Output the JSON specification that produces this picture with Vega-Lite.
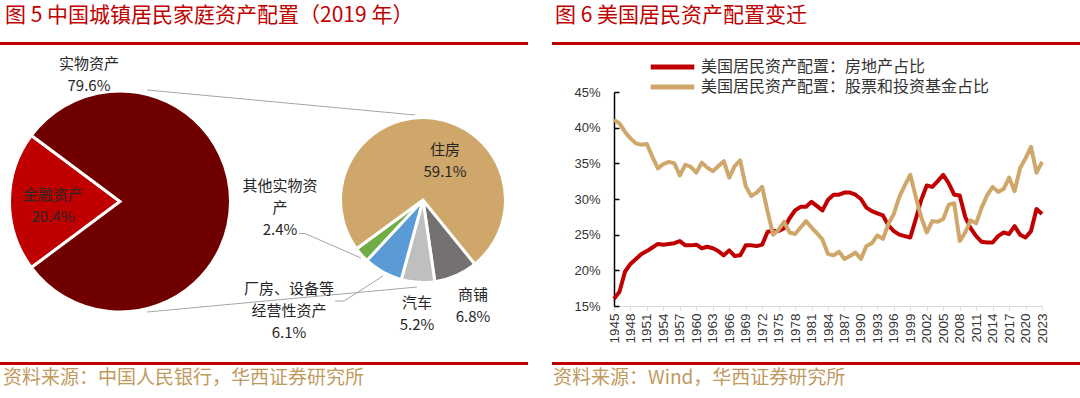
{
  "$schema": "https://vega.github.io/schema/vega-lite/v6.json",
  "padding": 0,
  "columns": 2,
  "bounds": "flush",
  "align": "each",
  "spacing": {"row": 47, "column": 24},
  "resolve": {"scale": {"color": "independent"}, "legend": {"color": "independent"}},
  "config": {
    "view": {"stroke": null},
    "font": "Noto Sans CJK SC",
    "text": {"font": "Noto Sans CJK SC"}
  },
  "concat": [
    {
      "width": 528, "height": 45,
      "data": {"values": [{"t": "图 5 中国城镇居民家庭资产配置（2019 年）"}]},
      "layer": [
        {"mark": {"type": "rect", "color": "#C00000"},
         "encoding": {
           "x": {"datum": 0, "type": "quantitative", "scale": {"domain": [0, 528], "nice": false, "zero": false}, "axis": null},
           "x2": {"datum": 528},
           "y": {"datum": 42, "type": "quantitative", "scale": {"domain": [0, 45], "nice": false, "zero": false, "reverse": true}, "axis": null},
           "y2": {"datum": 45}}},
        {"mark": {"type": "text", "align": "left", "baseline": "middle", "fontSize": 21, "color": "#C00000"},
         "encoding": {
           "text": {"field": "t"},
           "x": {"datum": 5, "type": "quantitative", "scale": {"domain": [0, 528], "nice": false, "zero": false}, "axis": null},
           "y": {"datum": 16, "type": "quantitative", "scale": {"domain": [0, 45], "nice": false, "zero": false, "reverse": true}, "axis": null}}}
      ]
    },
    {
      "width": 528, "height": 45,
      "data": {"values": [{"t": "图 6 美国居民资产配置变迁"}]},
      "layer": [
        {"mark": {"type": "rect", "color": "#C00000"},
         "encoding": {
           "x": {"datum": 0, "type": "quantitative", "scale": {"domain": [0, 528], "nice": false, "zero": false}, "axis": null},
           "x2": {"datum": 528},
           "y": {"datum": 42, "type": "quantitative", "scale": {"domain": [0, 45], "nice": false, "zero": false, "reverse": true}, "axis": null},
           "y2": {"datum": 45}}},
        {"mark": {"type": "text", "align": "left", "baseline": "middle", "fontSize": 21, "color": "#C00000"},
         "encoding": {
           "text": {"field": "t"},
           "x": {"datum": 3, "type": "quantitative", "scale": {"domain": [0, 528], "nice": false, "zero": false}, "axis": null},
           "y": {"datum": 16, "type": "quantitative", "scale": {"domain": [0, 45], "nice": false, "zero": false, "reverse": true}, "axis": null}}}
      ]
    },
    {
      "width": 528, "height": 223,
      "data": {"values": [
        {"group": "big", "k": 1, "name": "金融资产", "value": 20.4, "label": "金融资产\n20.4%"},
        {"group": "big", "k": 2, "name": "实物资产", "value": 79.6, "label": "实物资产\n79.6%"},
        {"group": "small", "k": 1, "name": "商铺", "value": 6.8, "label": "商铺\n6.8%"},
        {"group": "small", "k": 2, "name": "汽车", "value": 5.2, "label": "汽车\n5.2%"},
        {"group": "small", "k": 3, "name": "厂房、设备等经营性资产", "value": 6.1, "label": "厂房、设备等\n经营性资产\n6.1%"},
        {"group": "small", "k": 4, "name": "其他实物资产", "value": 2.4, "label": "其他实物资\n产\n2.4%"},
        {"group": "small", "k": 5, "name": "住房", "value": 59.1, "label": "住房\n59.1%"}
      ]},
      "resolve": {"scale": {"theta": "independent"}},
      "layer": [
        {"data": {"values": [{}]},
         "mark": {"type": "rule", "color": "#A6A6A6", "strokeWidth": 1},
         "encoding": {
           "x": {"datum": 147, "type": "quantitative", "scale": {"domain": [0, 528], "nice": false, "zero": false}, "axis": null},
           "y": {"datum": 90, "type": "quantitative", "scale": {"domain": [92, 315], "nice": false, "zero": false, "reverse": true}, "axis": null},
           "x2": {"datum": 415}, "y2": {"datum": 115}}},
        {"data": {"values": [{}]},
         "mark": {"type": "rule", "color": "#A6A6A6", "strokeWidth": 1},
         "encoding": {
           "x": {"datum": 147, "type": "quantitative", "scale": {"domain": [0, 528], "nice": false, "zero": false}, "axis": null},
           "y": {"datum": 312, "type": "quantitative", "scale": {"domain": [92, 315], "nice": false, "zero": false, "reverse": true}, "axis": null},
           "x2": {"datum": 417}, "y2": {"datum": 287}}},
        {"transform": [{"filter": "datum.group == 'big'"}],
         "mark": {"type": "arc", "radius": 110.5, "stroke": "#FFFFFF", "strokeWidth": 3},
         "encoding": {
           "theta": {"field": "value", "type": "quantitative", "stack": true, "scale": {"range": [4.0715, 10.3547]}},
           "order": {"field": "k", "type": "quantitative"},
           "color": {"field": "name", "type": "nominal", "legend": null,
             "scale": {"domain": ["实物资产", "金融资产", "住房", "商铺", "汽车", "厂房、设备等经营性资产", "其他实物资产"],
                       "range": ["#700000", "#C00000", "#CFA76B", "#767171", "#BFBFBF", "#5B9BD5", "#70AD47"]}},
           "x": {"datum": 120, "type": "quantitative", "scale": {"domain": [0, 528], "nice": false, "zero": false}, "axis": null},
           "y": {"datum": 201.5, "type": "quantitative", "scale": {"domain": [92, 315], "nice": false, "zero": false, "reverse": true}, "axis": null}}},
        {"transform": [{"filter": "datum.group == 'small'"}],
         "mark": {"type": "arc", "radius": 82.5, "stroke": "#FFFFFF", "strokeWidth": 3},
         "encoding": {
           "theta": {"field": "value", "type": "quantitative", "stack": true, "scale": {"range": [2.461, 8.7442]}},
           "order": {"field": "k", "type": "quantitative"},
           "color": {"field": "name", "type": "nominal", "legend": null},
           "x": {"datum": 423, "type": "quantitative", "scale": {"domain": [0, 528], "nice": false, "zero": false}, "axis": null},
           "y": {"datum": 200, "type": "quantitative", "scale": {"domain": [92, 315], "nice": false, "zero": false, "reverse": true}, "axis": null}}},
        {"data": {"values": [{}]},
         "mark": {"type": "rule", "color": "#A6A6A6", "strokeWidth": 1},
         "encoding": {
           "x": {"datum": 299, "type": "quantitative", "scale": {"domain": [0, 528], "nice": false, "zero": false}, "axis": null},
           "y": {"datum": 233.5, "type": "quantitative", "scale": {"domain": [92, 315], "nice": false, "zero": false, "reverse": true}, "axis": null},
           "x2": {"datum": 305}, "y2": {"datum": 233.5}}},
        {"data": {"values": [{}]},
         "mark": {"type": "rule", "color": "#A6A6A6", "strokeWidth": 1},
         "encoding": {
           "x": {"datum": 305, "type": "quantitative", "scale": {"domain": [0, 528], "nice": false, "zero": false}, "axis": null},
           "y": {"datum": 233.5, "type": "quantitative", "scale": {"domain": [92, 315], "nice": false, "zero": false, "reverse": true}, "axis": null},
           "x2": {"datum": 361}, "y2": {"datum": 258}}},
        {"data": {"values": [{}]},
         "mark": {"type": "rule", "color": "#A6A6A6", "strokeWidth": 1},
         "encoding": {
           "x": {"datum": 335, "type": "quantitative", "scale": {"domain": [0, 528], "nice": false, "zero": false}, "axis": null},
           "y": {"datum": 301, "type": "quantitative", "scale": {"domain": [92, 315], "nice": false, "zero": false, "reverse": true}, "axis": null},
           "x2": {"datum": 344}, "y2": {"datum": 301}}},
        {"data": {"values": [{}]},
         "mark": {"type": "rule", "color": "#A6A6A6", "strokeWidth": 1},
         "encoding": {
           "x": {"datum": 344, "type": "quantitative", "scale": {"domain": [0, 528], "nice": false, "zero": false}, "axis": null},
           "y": {"datum": 301, "type": "quantitative", "scale": {"domain": [92, 315], "nice": false, "zero": false, "reverse": true}, "axis": null},
           "x2": {"datum": 383}, "y2": {"datum": 276}}},
        {"transform": [{"filter": "datum.name == '实物资产'"}],
         "mark": {"type": "text", "fontSize": 15, "lineBreak": "\n", "lineHeight": 22, "align": "center", "baseline": "middle", "color": "#262626"},
         "encoding": {"text": {"field": "label"},
           "x": {"datum": 89, "type": "quantitative", "scale": {"domain": [0, 528], "nice": false, "zero": false}, "axis": null},
           "y": {"datum": 64, "type": "quantitative", "scale": {"domain": [92, 315], "nice": false, "zero": false, "reverse": true}, "axis": null}}},
        {"transform": [{"filter": "datum.name == '金融资产'"}],
         "mark": {"type": "text", "fontSize": 15, "lineBreak": "\n", "lineHeight": 22, "align": "center", "baseline": "middle", "color": "#262626"},
         "encoding": {"text": {"field": "label"},
           "x": {"datum": 53, "type": "quantitative", "scale": {"domain": [0, 528], "nice": false, "zero": false}, "axis": null},
           "y": {"datum": 195, "type": "quantitative", "scale": {"domain": [92, 315], "nice": false, "zero": false, "reverse": true}, "axis": null}}},
        {"transform": [{"filter": "datum.name == '其他实物资产'"}],
         "mark": {"type": "text", "fontSize": 15, "lineBreak": "\n", "lineHeight": 22, "align": "center", "baseline": "middle", "color": "#262626"},
         "encoding": {"text": {"field": "label"},
           "x": {"datum": 280, "type": "quantitative", "scale": {"domain": [0, 528], "nice": false, "zero": false}, "axis": null},
           "y": {"datum": 186, "type": "quantitative", "scale": {"domain": [92, 315], "nice": false, "zero": false, "reverse": true}, "axis": null}}},
        {"transform": [{"filter": "datum.name == '厂房、设备等经营性资产'"}],
         "mark": {"type": "text", "fontSize": 15, "lineBreak": "\n", "lineHeight": 22, "align": "center", "baseline": "middle", "color": "#262626"},
         "encoding": {"text": {"field": "label"},
           "x": {"datum": 289, "type": "quantitative", "scale": {"domain": [0, 528], "nice": false, "zero": false}, "axis": null},
           "y": {"datum": 289, "type": "quantitative", "scale": {"domain": [92, 315], "nice": false, "zero": false, "reverse": true}, "axis": null}}},
        {"transform": [{"filter": "datum.name == '汽车'"}],
         "mark": {"type": "text", "fontSize": 15, "lineBreak": "\n", "lineHeight": 22, "align": "center", "baseline": "middle", "color": "#262626"},
         "encoding": {"text": {"field": "label"},
           "x": {"datum": 417, "type": "quantitative", "scale": {"domain": [0, 528], "nice": false, "zero": false}, "axis": null},
           "y": {"datum": 303, "type": "quantitative", "scale": {"domain": [92, 315], "nice": false, "zero": false, "reverse": true}, "axis": null}}},
        {"transform": [{"filter": "datum.name == '商铺'"}],
         "mark": {"type": "text", "fontSize": 15, "lineBreak": "\n", "lineHeight": 22, "align": "center", "baseline": "middle", "color": "#262626"},
         "encoding": {"text": {"field": "label"},
           "x": {"datum": 473, "type": "quantitative", "scale": {"domain": [0, 528], "nice": false, "zero": false}, "axis": null},
           "y": {"datum": 295, "type": "quantitative", "scale": {"domain": [92, 315], "nice": false, "zero": false, "reverse": true}, "axis": null}}},
        {"transform": [{"filter": "datum.name == '住房'"}],
         "mark": {"type": "text", "fontSize": 15, "lineBreak": "\n", "lineHeight": 22, "align": "center", "baseline": "middle", "color": "#262626"},
         "encoding": {"text": {"field": "label"},
           "x": {"datum": 445, "type": "quantitative", "scale": {"domain": [0, 528], "nice": false, "zero": false}, "axis": null},
           "y": {"datum": 150, "type": "quantitative", "scale": {"domain": [92, 315], "nice": false, "zero": false, "reverse": true}, "axis": null}}}
      ]
    },
    {
      "width": 490, "height": 214,
      "data": {"values": [
        {"year": 1945, "s1": 16.0, "s2": 41.1}, {"year": 1946, "s1": 17.0, "s2": 40.6}, {"year": 1947, "s1": 19.8, "s2": 39.4},
        {"year": 1948, "s1": 20.9, "s2": 38.5}, {"year": 1949, "s1": 21.6, "s2": 37.8}, {"year": 1950, "s1": 22.3, "s2": 37.6},
        {"year": 1951, "s1": 22.7, "s2": 37.7}, {"year": 1952, "s1": 23.2, "s2": 35.9}, {"year": 1953, "s1": 23.7, "s2": 34.3},
        {"year": 1954, "s1": 23.6, "s2": 34.9}, {"year": 1955, "s1": 23.7, "s2": 35.2}, {"year": 1956, "s1": 23.8, "s2": 35.0},
        {"year": 1957, "s1": 24.1, "s2": 33.3}, {"year": 1958, "s1": 23.5, "s2": 34.8}, {"year": 1959, "s1": 23.5, "s2": 34.5},
        {"year": 1960, "s1": 23.6, "s2": 33.7}, {"year": 1961, "s1": 23.1, "s2": 35.1}, {"year": 1962, "s1": 23.3, "s2": 34.4},
        {"year": 1963, "s1": 23.1, "s2": 33.9}, {"year": 1964, "s1": 22.7, "s2": 34.6}, {"year": 1965, "s1": 22.1, "s2": 35.3},
        {"year": 1966, "s1": 22.8, "s2": 33.0}, {"year": 1967, "s1": 22.0, "s2": 34.6}, {"year": 1968, "s1": 22.1, "s2": 35.4},
        {"year": 1969, "s1": 23.5, "s2": 31.8}, {"year": 1970, "s1": 23.5, "s2": 30.4}, {"year": 1971, "s1": 23.4, "s2": 30.9},
        {"year": 1972, "s1": 23.6, "s2": 31.7}, {"year": 1973, "s1": 25.4, "s2": 28.2}, {"year": 1974, "s1": 25.5, "s2": 25.0},
        {"year": 1975, "s1": 25.5, "s2": 25.7}, {"year": 1976, "s1": 25.9, "s2": 26.8}, {"year": 1977, "s1": 27.3, "s2": 25.3},
        {"year": 1978, "s1": 28.4, "s2": 25.1}, {"year": 1979, "s1": 28.9, "s2": 26.0}, {"year": 1980, "s1": 28.9, "s2": 26.9},
        {"year": 1981, "s1": 29.6, "s2": 26.0}, {"year": 1982, "s1": 29.0, "s2": 25.2}, {"year": 1983, "s1": 28.4, "s2": 24.3},
        {"year": 1984, "s1": 29.9, "s2": 22.3}, {"year": 1985, "s1": 30.6, "s2": 22.1}, {"year": 1986, "s1": 30.6, "s2": 22.6},
        {"year": 1987, "s1": 30.9, "s2": 21.6}, {"year": 1988, "s1": 30.9, "s2": 22.0}, {"year": 1989, "s1": 30.6, "s2": 22.5},
        {"year": 1990, "s1": 30.0, "s2": 21.6}, {"year": 1991, "s1": 28.8, "s2": 23.4}, {"year": 1992, "s1": 28.3, "s2": 23.8},
        {"year": 1993, "s1": 28.0, "s2": 24.9}, {"year": 1994, "s1": 27.7, "s2": 24.4}, {"year": 1995, "s1": 26.3, "s2": 26.5},
        {"year": 1996, "s1": 25.5, "s2": 27.9}, {"year": 1997, "s1": 25.0, "s2": 30.3}, {"year": 1998, "s1": 24.8, "s2": 31.9},
        {"year": 1999, "s1": 24.6, "s2": 33.4}, {"year": 2000, "s1": 27.2, "s2": 30.3}, {"year": 2001, "s1": 29.9, "s2": 27.4},
        {"year": 2002, "s1": 31.9, "s2": 25.3}, {"year": 2003, "s1": 31.7, "s2": 26.9}, {"year": 2004, "s1": 32.5, "s2": 26.8},
        {"year": 2005, "s1": 33.4, "s2": 27.2}, {"year": 2006, "s1": 32.2, "s2": 29.2}, {"year": 2007, "s1": 30.6, "s2": 29.4},
        {"year": 2008, "s1": 30.5, "s2": 24.1}, {"year": 2009, "s1": 27.5, "s2": 25.3}, {"year": 2010, "s1": 25.9, "s2": 27.0},
        {"year": 2011, "s1": 24.8, "s2": 26.6}, {"year": 2012, "s1": 24.0, "s2": 28.8}, {"year": 2013, "s1": 23.9, "s2": 30.5},
        {"year": 2014, "s1": 23.9, "s2": 31.7}, {"year": 2015, "s1": 24.8, "s2": 31.0}, {"year": 2016, "s1": 25.3, "s2": 31.4},
        {"year": 2017, "s1": 25.1, "s2": 33.0}, {"year": 2018, "s1": 26.2, "s2": 31.1}, {"year": 2019, "s1": 25.0, "s2": 34.3},
        {"year": 2020, "s1": 24.6, "s2": 35.7}, {"year": 2021, "s1": 25.5, "s2": 37.3}, {"year": 2022, "s1": 28.6, "s2": 33.7},
        {"year": 2023, "s1": 27.9, "s2": 35.2}
      ]},
      "transform": [{"fold": ["s1", "s2"], "as": ["series", "v"]}],
      "mark": {"type": "line", "strokeWidth": 4, "strokeJoin": "round"},
      "encoding": {
        "x": {"field": "year", "type": "quantitative",
          "scale": {"domain": [1945, 2023], "range": [62, 490], "nice": false, "zero": false},
          "axis": {"title": null, "grid": false, "format": "d",
            "values": [1945, 1948, 1951, 1954, 1957, 1960, 1963, 1966, 1969, 1972, 1975, 1978, 1981, 1984, 1987, 1990, 1993, 1996, 1999, 2002, 2005, 2008, 2011, 2014, 2017, 2020, 2023],
            "labelAngle": -90, "labelFont": "Liberation Sans", "labelFontSize": 13.5, "labelColor": "#333333",
            "domainColor": "#D9D9D9", "tickColor": "#D9D9D9", "tickSize": 4, "labelPadding": 3, "labelOverlap": false, "labelFlush": false}},
        "y": {"field": "v", "type": "quantitative",
          "scale": {"domain": [15, 45], "nice": false, "zero": false},
          "axis": {"title": null, "grid": false, "values": [15, 20, 25, 30, 35, 40, 45], "offset": -62,
            "labelExpr": "datum.value + '%'", "labelFont": "Liberation Sans", "labelFontSize": 13, "labelColor": "#333333",
            "domainColor": "#000000", "domainWidth": 1.5, "tickColor": "#000000", "tickWidth": 1.5, "tickSize": -5, "labelPadding": 19, "labelFlush": false}},
        "color": {"field": "series", "type": "nominal",
          "scale": {"domain": ["s1", "s2"], "range": ["#C00000", "#CFA76B"]},
          "legend": {"title": null, "orient": "none", "legendX": 96, "legendY": -35, "direction": "vertical",
            "labelExpr": "datum.label == 's1' ? '美国居民资产配置：房地产占比' : '美国居民资产配置：股票和投资基金占比'",
            "symbolType": "stroke", "symbolSize": 1900, "symbolStrokeWidth": 5, "labelFontSize": 16, "labelColor": "#333333",
            "labelFont": "Noto Sans CJK SC", "labelLimit": 500, "labelOffset": 4, "rowPadding": 0, "clipHeight": 20, "padding": 0}}
      }
    },
    {
      "width": 528, "height": 36,
      "data": {"values": [{"t": "资料来源：中国人民银行，华西证券研究所"}]},
      "layer": [
        {"mark": {"type": "rect", "color": "#C00000"},
         "encoding": {
           "x": {"datum": 0, "type": "quantitative", "scale": {"domain": [0, 528], "nice": false, "zero": false}, "axis": null},
           "x2": {"datum": 528},
           "y": {"datum": 362, "type": "quantitative", "scale": {"domain": [362, 398], "nice": false, "zero": false, "reverse": true}, "axis": null},
           "y2": {"datum": 365}}},
        {"mark": {"type": "text", "align": "left", "baseline": "middle", "fontSize": 19, "color": "#BF9A5E"},
         "encoding": {
           "text": {"field": "t"},
           "x": {"datum": 3, "type": "quantitative", "scale": {"domain": [0, 528], "nice": false, "zero": false}, "axis": null},
           "y": {"datum": 378, "type": "quantitative", "scale": {"domain": [362, 398], "nice": false, "zero": false, "reverse": true}, "axis": null}}}
      ]
    },
    {
      "width": 528, "height": 36,
      "data": {"values": [{"t": "资料来源：Wind，华西证券研究所"}]},
      "layer": [
        {"mark": {"type": "rect", "color": "#C00000"},
         "encoding": {
           "x": {"datum": 0, "type": "quantitative", "scale": {"domain": [0, 528], "nice": false, "zero": false}, "axis": null},
           "x2": {"datum": 528},
           "y": {"datum": 362, "type": "quantitative", "scale": {"domain": [362, 398], "nice": false, "zero": false, "reverse": true}, "axis": null},
           "y2": {"datum": 365}}},
        {"mark": {"type": "text", "align": "left", "baseline": "middle", "fontSize": 19, "color": "#BF9A5E"},
         "encoding": {
           "text": {"field": "t"},
           "x": {"datum": 1, "type": "quantitative", "scale": {"domain": [0, 528], "nice": false, "zero": false}, "axis": null},
           "y": {"datum": 378, "type": "quantitative", "scale": {"domain": [362, 398], "nice": false, "zero": false, "reverse": true}, "axis": null}}}
      ]
    }
  ]
}
